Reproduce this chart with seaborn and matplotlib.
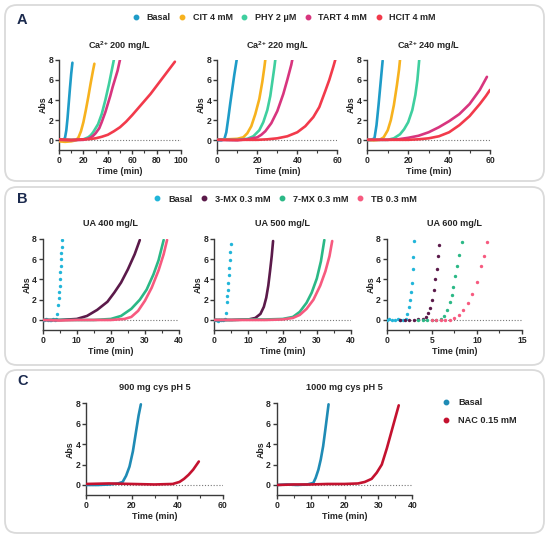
import numpy as np
import pandas as pd
import matplotlib
matplotlib.use("Agg")
import matplotlib.pyplot as plt
import seaborn as sns
from matplotlib.patches import FancyBboxPatch
from matplotlib.transforms import IdentityTransform
from matplotlib.ticker import MultipleLocator
from matplotlib.lines import Line2D

# ---------------- DATA (time in min, Abs) ----------------
# Panel A: Ca2+ 200 mg/L
A1_BASAL = [(0,0.05),(2,0),(4,0.05),(5,0.3),(6,1.0),(7,2.2),(8,3.7),(9,5.2),(10,6.6),(11,7.7)]
A1_CIT = [(0,-0.1),(5,-0.15),(10,-0.1),(14,0),(16,0.3),(18,0.9),(20,1.8),(22,3.0),(24,4.3),(26,5.7),(28,7.0),(29,7.6)]
A1_PHY = [(0,0.1),(5,0.05),(10,0.05),(15,0.05),(20,0.1),(24,0.3),(26,0.5),(28,0.8),(30,1.2),(32,1.6),(35,2.6),(38,4.0),(41,5.6),(43,6.8),(45,8.0)]
A1_TART = [(0,0.05),(10,0),(20,0.05),(25,0.2),(28,0.45),(30,0.7),(33,1.2),(35,1.8),(38,2.8),(40,3.6),(42,4.4),(44,5.3),(46,6.1),(48,6.9),(50,8.0)]
A1_HCIT = [(0,0.1),(10,0.05),(20,0.1),(25,0.12),(30,0.2),(35,0.35),(40,0.55),(45,0.9),(50,1.3),(55,1.85),(60,2.5),(65,3.2),(70,3.9),(75,4.6),(80,5.4),(85,6.2),(90,7.0),(95,7.8)]
# Ca2+ 220 mg/L
A2_BASAL = [(0,0),(2,0),(3.5,0.1),(4.5,0.8),(5.5,2.2),(6.5,3.7),(7.5,5.1),(8.5,6.5),(9.7,8.0)]
A2_CIT = [(0,0.1),(5,0.1),(10,0.15),(13,0.3),(15,0.7),(17,1.4),(19,2.6),(21,4.1),(22.5,5.8),(23.5,7.2),(24,8.0)]
A2_PHY = [(0,0.1),(5,0.05),(10,0.05),(15,0.15),(18,0.4),(21,1.0),(23,1.8),(25,3.0),(26.5,4.4),(27.5,5.8),(28.5,7.2),(29,8.0)]
A2_TART = [(0,0.05),(10,0),(15,0.1),(20,0.3),(22,0.55),(24,0.9),(27,1.7),(30,2.9),(33,4.6),(35,6.0),(37,7.5),(37.5,8.0)]
A2_HCIT = [(0,0.05),(10,0.05),(20,0.05),(25,0.1),(30,0.2),(35,0.4),(40,0.8),(44,1.4),(48,2.3),(51,3.3),(54,4.9),(56,6.0),(58,7.3),(59,8.0)]
# Ca2+ 240 mg/L
A3_BASAL = [(0,0),(2,0.05),(3.5,0.2),(4.5,1.5),(5.5,3.5),(6.5,5.7),(7.5,7.9)]
A3_CIT = [(0,0.05),(3,0),(6,0.05),(8,0.3),(10,1.0),(11.5,2.0),(13,3.5),(14.5,5.5),(15.5,7.0),(16,8.0)]
A3_PHY = [(0,0.05),(5,0.05),(10,0.05),(13,0.2),(16,0.6),(18,1.1),(20,1.8),(22,3.0),(23.5,4.5),(24.5,6.0),(25.4,8.0)]
A3_TART = [(0,0.05),(10,0.05),(15,0.1),(20,0.25),(25,0.45),(30,0.8),(35,1.3),(40,1.9),(45,2.6),(50,3.6),(55,5.0),(58.5,6.3)]
A3_HCIT = [(0,0.05),(10,0.05),(20,0.05),(25,0.1),(30,0.2),(35,0.4),(40,0.8),(45,1.5),(50,2.4),(55,3.6),(58,4.4),(60,5.0)]

# Panel B: UA 400 mg/L
B1_BASAL = [(0,0),(0.5,-0.05),(1,0.05),(1.5,0),(2,0),(2.5,-0.05),(3,0.05),(3.5,0),(4,0.1),(4.3,0.6),(4.6,1.5),(4.8,2.2),(4.9,2.8),(5.0,3.4),(5.1,4.0),(5.2,4.7),(5.3,5.3),(5.4,6.0),(5.5,6.6),(5.6,7.2),(5.7,7.9)]
B1_3MX = [(0,0),(5,0),(10,0.1),(13,0.4),(16,1.0),(19,1.8),(21,2.7),(23,3.7),(25,5.0),(27,6.5),(28.5,7.9)]
B1_7MX = [(0,0),(5,0),(10,0),(15,0),(20,0.1),(23,0.4),(26,1.1),(28.5,2.0),(30.5,3.0),(32.5,4.5),(34,5.9),(35.5,7.9)]
B1_TB = [(0,0),(5,-0.05),(10,0),(15,0),(20,0),(24,0.1),(26,0.3),(28,0.9),(30,1.9),(32,3.2),(34,4.9),(35.5,6.5),(36.5,7.9)]
# UA 500 mg/L
B2_BASAL = [(0,0),(0.5,-0.05),(1,-0.1),(1.5,-0.05),(2,-0.05),(2.5,0),(3,0.1),(3.3,0.7),(3.6,1.8),(3.75,2.4),(3.9,3.0),(4.05,3.7),(4.2,4.4),(4.35,5.1),(4.5,5.9),(4.65,6.7),(4.8,7.5)]
B2_3MX = [(0,0),(5,0),(10,0.05),(12,0.2),(13.5,0.6),(14.5,1.3),(15.2,2.2),(15.8,3.4),(16.3,4.8),(16.8,6.3),(17.2,7.8)]
B2_7MX = [(0,0),(5,0),(10,0.05),(15,0.05),(20,0.1),(23,0.3),(25,0.8),(27,1.7),(28.5,2.7),(30,4.1),(31.2,5.8),(32.2,7.9)]
B2_TB = [(0,0),(5,0),(10,0),(15,0),(20,0.05),(23,0.2),(25,0.5),(27,1.1),(29,2.0),(31,3.4),(32.5,4.8),(33.7,6.3),(34.5,7.8)]
# UA 600 mg/L
B3_BASAL = [(0,0),(0.3,0.05),(0.6,-0.05),(0.9,0),(1.2,0.05),(1.5,0),(1.8,0),(2.1,0.1),(2.3,0.6),(2.45,1.3),(2.6,2.0),(2.7,2.8),(2.8,3.7),(2.9,5.0),(2.95,6.2),(3.05,7.8)]
B3_3MX = [(1.5,0),(2,-0.05),(2.5,0),(3,0),(3.5,0.05),(4,0.1),(4.4,0.3),(4.6,0.7),(4.8,1.2),(5.0,2.0),(5.2,3.0),(5.4,4.0),(5.55,5.0),(5.7,6.3),(5.85,7.4)]
B3_7MX = [(3.5,0),(4,-0.05),(4.5,0),(5,-0.05),(5.5,0),(6,0.05),(6.4,0.4),(6.7,1.0),(7.0,1.8),(7.2,2.5),(7.4,3.3),(7.6,4.3),(7.8,5.3),(8.0,6.4),(8.3,7.7)]
B3_TB = [(5,0),(5.5,-0.05),(6,0),(6.5,0),(7,0),(7.5,0.2),(8,0.5),(8.5,1.0),(9,1.7),(9.5,2.6),(10,3.8),(10.5,5.3),(10.8,6.3),(11.1,7.7)]

# Panel C: 900 mg cys pH 5
C1_BASAL = [(0,0),(5,0),(10,0.05),(14,0.15),(16,0.3),(17.5,0.9),(19,1.8),(20.5,3.3),(22,5.4),(23,6.8),(24,7.9)]
C1_NAC = [(0,0.1),(10,0.15),(20,0.1),(30,0.05),(38,0.1),(41,0.3),(43,0.6),(45,1.0),(47,1.5),(49.5,2.3)]
# 1000 mg cys pH 5
C2_BASAL = [(0,0),(3,0.05),(6,0),(9,0.05),(10.8,0.2),(11.5,0.7),(12.3,1.5),(13,2.5),(13.7,3.8),(14.3,5.3),(14.8,6.6),(15.3,7.9)]
C2_NAC = [(0,0),(5,0.05),(10,0.05),(15,0.1),(20,0.1),(24,0.15),(26,0.3),(28,0.6),(29.5,1.2),(31,2.0),(32.5,3.6),(34,5.4),(35,6.6),(36,7.8)]

LABELS_A = ["Basal", "CIT 4 mM", "PHY 2 \u03bcM", "TART 4 mM", "HCIT 4 mM"]
LABELS_B = ["Basal", "3-MX 0.3 mM", "7-MX 0.3 mM", "TB 0.3 mM"]
LABELS_C = ["Basal", "NAC 0.15 mM"]
TITLES_A = [r"Ca$^{2{+}}$ 200 mg/L", r"Ca$^{2{+}}$ 220 mg/L", r"Ca$^{2{+}}$ 240 mg/L"]
TITLES_B = ["UA 400 mg/L", "UA 500 mg/L", "UA 600 mg/L"]
TITLES_C = ["900 mg cys pH 5", "1000 mg cys pH 5"]

COL_A = ["#1e9cc8", "#f7b21e", "#3fcf9f", "#d8357e", "#f23a4b"]
COL_B = ["#21b5d9", "#5b1a4a", "#2bb886", "#f75a7f"]
COL_C = ["#1f8bb5", "#c4122f"]

# ---------------- STYLE ----------------
sns.set_theme(style="ticks")
plt.rcParams["font.family"] = ["Liberation Sans", "DejaVu Sans"]
plt.rcParams["font.weight"] = "bold"
plt.rcParams["axes.labelweight"] = "bold"
plt.rcParams["mathtext.fontset"] = "custom"
plt.rcParams["mathtext.rm"] = "Liberation Sans:bold"
plt.rcParams["mathtext.it"] = "Liberation Sans:bold"
plt.rcParams["mathtext.bf"] = "Liberation Sans:bold"
plt.rcParams["mathtext.default"] = "rm"

W, H = 550, 538
fig = plt.figure(figsize=(W / 100, H / 100), dpi=100)
fig.patch.set_facecolor("white")

# rounded panel boxes (pixel coords from top)
for (x0, y0, x1, y1) in [(5, 5, 544, 181), (5, 187, 544, 365), (5, 370, 544, 533)]:
    fig.patches.append(FancyBboxPatch((x0, H - y1), x1 - x0, y1 - y0,
                                      boxstyle="round,pad=0,rounding_size=12",
                                      transform=IdentityTransform(),
                                      facecolor="none", edgecolor="#dadada", lw=1.3, zorder=-5))

def make_ax(x0, x1, ytop, ybot):
    return fig.add_axes([x0 / W, 1 - ybot / H, (x1 - x0) / W, (ybot - ytop) / H])

def style_ax(ax, xmax, xmaj, xmin):
    ax.set_xlim(0, xmax)
    ax.set_ylim(-1, 8)
    ax.set_yticks([0, 2, 4, 6, 8])
    ax.xaxis.set_major_locator(MultipleLocator(xmaj))
    ax.xaxis.set_minor_locator(MultipleLocator(xmin))
    for s in ["top", "right"]:
        ax.spines[s].set_visible(False)
    for s in ["left", "bottom"]:
        ax.spines[s].set_color("#3a3a3a")
        ax.spines[s].set_linewidth(1.0)
    ax.tick_params(axis="both", which="major", length=3, width=1, color="#3a3a3a",
                   labelsize=6.2, pad=1.2)
    ax.tick_params(axis="x", which="minor", length=2, width=0.8, color="#3a3a3a")
    for lab in ax.get_xticklabels() + ax.get_yticklabels():
        lab.set_fontweight("bold")
    ax.set_xlabel("Time (min)", fontsize=6.4, fontweight="bold", labelpad=1.5)
    ax.set_ylabel("Abs", fontsize=6.4, fontweight="bold", labelpad=0.5)
    ax.axhline(0, xmin=0, xmax=1, color="#777777", lw=0.8, ls=(0, (1, 1.6)), zorder=1)
    ax.set_facecolor("none")

def draw(ax, series, colors, labels, sparse=()):
    for i, (pts, c, lab) in enumerate(zip(series, colors, labels)):
        df = pd.DataFrame(pts, columns=["t", "abs"])
        if i in sparse:
            sns.scatterplot(data=df, x="t", y="abs", ax=ax, color=c, s=6, linewidth=0,
                            legend=False, zorder=3)
        else:
            sns.lineplot(data=df, x="t", y="abs", ax=ax, color=c, lw=1.9, legend=False,
                         zorder=3, sort=False)

# ---- Panel A ----
A_series = [[A1_BASAL, A1_CIT, A1_PHY, A1_TART, A1_HCIT],
            [A2_BASAL, A2_CIT, A2_PHY, A2_TART, A2_HCIT],
            [A3_BASAL, A3_CIT, A3_PHY, A3_TART, A3_HCIT]]
A_pos = [(59, 181, 100, 20, 10), (217.3, 337.3, 60, 20, 10), (367.3, 490, 60, 20, 10)]
for (x0, x1, xm, xmaj, xmn), ser, ttl in zip(A_pos, A_series, TITLES_A):
    ax = make_ax(x0, x1, 59.7, 150.4)
    draw(ax, ser, COL_A, LABELS_A)
    style_ax(ax, xm, xmaj, xmn)
    fig.text((x0 + x1) / 2 / W, 1 - 45.7 / H, ttl, ha="center", va="center",
             fontsize=6.6, fontweight="bold")

# ---- Panel B ----
B_series = [[B1_BASAL, B1_3MX, B1_7MX, B1_TB],
            [B2_BASAL, B2_3MX, B2_7MX, B2_TB],
            [B3_BASAL, B3_3MX, B3_7MX, B3_TB]]
B_pos = [(42.7, 179, 40, 10, 5), (214.3, 351, 40, 10, 5), (386.7, 522, 15, 5, 2.5)]
B_sparse = [(0,), (0,), (0, 1, 2, 3)]
for (x0, x1, xm, xmaj, xmn), ser, ttl, sp in zip(B_pos, B_series, TITLES_B, B_sparse):
    ax = make_ax(x0, x1, 239, 330.1)
    draw(ax, ser, COL_B, LABELS_B, sparse=sp)
    style_ax(ax, xm, xmaj, xmn)
    fig.text((x0 + x1) / 2 / W, 1 - 223 / H, ttl, ha="center", va="center",
             fontsize=6.6, fontweight="bold")

# ---- Panel C ----
C_series = [[C1_BASAL, C1_NAC], [C2_BASAL, C2_NAC]]
C_pos = [(86.3, 222.7, 60, 20, 10), (276.7, 412.3, 40, 10, 5)]
for (x0, x1, xm, xmaj, xmn), ser, ttl in zip(C_pos, C_series, TITLES_C):
    ax = make_ax(x0, x1, 403.3, 495.2)
    draw(ax, ser, COL_C, LABELS_C)
    style_ax(ax, xm, xmaj, xmn)
    fig.text((x0 + x1) / 2 / W, 1 - 388 / H, ttl, ha="center", va="center",
             fontsize=6.6, fontweight="bold")

# ---- legends ----
def handles(colors):
    return [Line2D([], [], ls="none", marker="o", ms=3.2, mfc=c, mec=c) for c in colors]

fig.legend(handles(COL_A), LABELS_A, ncol=5, loc="center", bbox_to_anchor=(284 / W, 1 - 17.3 / H),
           frameon=False, prop={"size": 6.5, "weight": "bold"}, handlelength=0.8,
           handletextpad=0.8, columnspacing=0.85, borderaxespad=0, borderpad=0)
fig.legend(handles(COL_B), LABELS_B, ncol=4, loc="center", bbox_to_anchor=(285 / W, 1 - 199 / H),
           frameon=False, prop={"size": 6.6, "weight": "bold"}, handlelength=0.8,
           handletextpad=0.8, columnspacing=0.85, borderaxespad=0, borderpad=0)
fig.legend(handles(COL_C), LABELS_C, ncol=1, loc="upper left", bbox_to_anchor=(442 / W, 1 - 398 / H),
           frameon=False, prop={"size": 6.6, "weight": "bold"}, handlelength=0.8,
           handletextpad=1.0, labelspacing=1.0, borderaxespad=0, borderpad=0)

# panel letters
for lt, (x, y) in zip(["A", "B", "C"], [(22, 20), (22, 199), (23, 381)]):
    fig.text(x / W, 1 - y / H, lt, ha="center", va="center", fontsize=10.5,
             fontweight="bold", color="#1b2a4e")

fig.savefig("out.png", dpi=100, facecolor="white")
